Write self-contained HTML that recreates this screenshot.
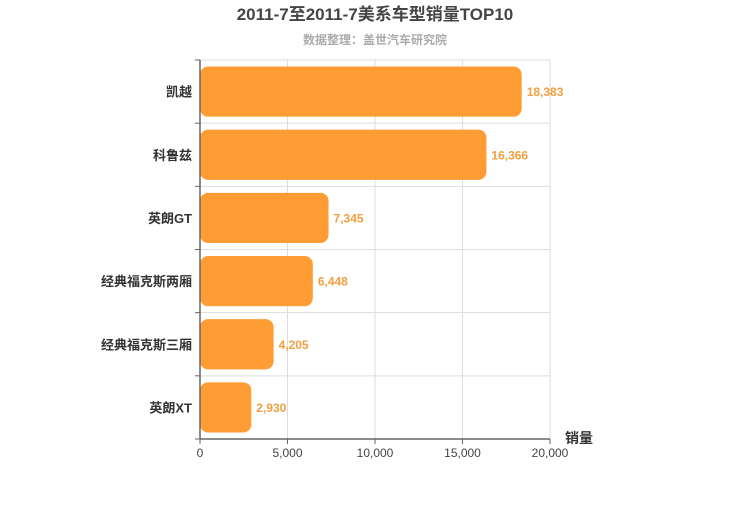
<!DOCTYPE html>
<html><head><meta charset="utf-8"><style>
body{margin:0;background:#fff;width:750px;height:500px;overflow:hidden}
svg text{font-family:"Liberation Sans","Noto Sans CJK SC",sans-serif}
</style></head><body>
<svg id="c" width="750" height="500">
<text x="375" y="20" text-anchor="middle" font-size="17" font-weight="bold" fill="#444">2011-7至2011-7美系车型销量TOP10</text>
<text x="375" y="44" text-anchor="middle" font-size="12" font-weight="bold" fill="#aaa">数据整理：盖世汽车研究院</text>
<g id="plot"></g>
</svg>
<script>
const categories=["凯越","科鲁兹","英朗GT","经典福克斯两厢","经典福克斯三厢","英朗XT"];
const values=[18383,16366,7345,6448,4205,2930];
const ticks=[0,5000,10000,15000,20000];
const tickLabels=["0","5,000","10,000","15,000","20,000"];
const NS="http://www.w3.org/2000/svg";
const g=document.getElementById('plot');
const x0=200,x1=550,y0=60,y1=439,max=20000;
const xs=v=>x0+(x1-x0)*v/max;
const band=(y1-y0)/categories.length;
function mk(t,a,p){const e=document.createElementNS(NS,t);for(const k in a)e.setAttribute(k,a[k]);(p||g).appendChild(e);return e;}
ticks.forEach((t,i)=>{
 if(i>0){const l=mk('line',{x1:xs(t),x2:xs(t),y1:y0,y2:y1,stroke:'#ddd'});
 
 }
 const tk=mk('line',{x1:xs(t),x2:xs(t),y1:y1,y2:y1+5,stroke:'#666'});
 
 
 const tx=mk('text',{x:xs(t),y:y1+18,'text-anchor':'middle','font-size':12,fill:'#444'});tx.textContent=tickLabels[i];
 
 
});
for(let i=0;i<=categories.length;i++){
 const y=y0+band*i;
 if(i<categories.length){const gl=mk('line',{x1:x0,x2:x1,y1:y,y2:y,stroke:'#ddd'});
 
 }
 const tk=mk('line',{x1:x0-5,x2:x0,y1:y,y2:y,stroke:'#666'});
 
 
}
categories.forEach((c,i)=>{
 const yt=y0+band*i;
 const r=mk('rect',{x:x0,y:yt+6.5,width:xs(values[i])-x0,height:band-13,rx:8,ry:8,fill:'#ff9c33'});
 
 
 const lb=mk('text',{x:xs(values[i])+5,y:yt+band/2+4.5,'font-size':12,'font-weight':'bold',fill:'#f0a040'});lb.textContent=values[i].toLocaleString('en-US');
 
 
 const cl=mk('text',{x:x0-8,y:yt+band/2+5,'text-anchor':'end','font-size':13,'font-weight':'bold',fill:'#333'});cl.textContent=c;
 
 
});
const ax=mk('line',{x1:x0,x2:x1,y1:y1,y2:y1,stroke:'#666','stroke-width':1.5});


const ay=mk('line',{x1:x0,x2:x0,y1:y0,y2:y1,stroke:'#666','stroke-width':1.5});


const at=mk('text',{x:565,y:443,'font-size':14,'font-weight':'bold',fill:'#333'});at.textContent='销量';


</script>
</body></html>
